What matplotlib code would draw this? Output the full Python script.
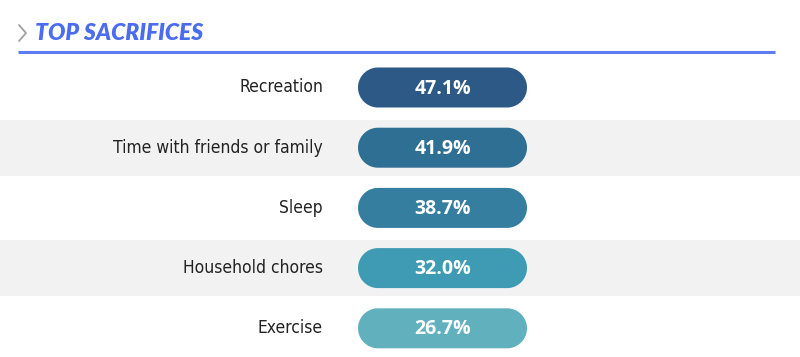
import matplotlib
matplotlib.use("Agg")
import numpy as np
import matplotlib.pyplot as plt
from matplotlib.patches import Polygon, Rectangle
from matplotlib.font_manager import FontProperties

categories = ["Recreation", "Time with friends or family", "Sleep", "Household chores", "Exercise"]
values = [47.1, 41.9, 38.7, 32.0, 26.7]
colors = ["#2c5985", "#306f94", "#357e9f", "#3e9bb3", "#60b1bd"]
title = "TOP SACRIFICES"

W, H = 800, 357
fig = plt.figure(figsize=(W / 100, H / 100), dpi=100)
ax = fig.add_axes([0, 0, 1, 1])
ax.set_xlim(0, W)
ax.set_ylim(H, 0)
ax.axis("off")

# title
ax.plot([19, 26, 19], [25, 33, 41], color="#a0a0a0", lw=1.3, solid_capstyle="round")
ax.text(35, 33.5, title, color="#4a6cf0", fontsize=16.5, fontweight="heavy",
        fontstyle="italic", family="Lato", va="center", ha="left")
ax.plot([18, 775], [51.5, 51.5], color="#5b7cf2", lw=2.2, solid_capstyle="butt")

label_fp = FontProperties(family="DejaVu Sans", stretch="condensed", size=12.5)


def capsule(x0, yc, w, h):
    r = h / 2
    t1 = np.linspace(np.pi / 2, 3 * np.pi / 2, 40)
    t2 = np.linspace(-np.pi / 2, np.pi / 2, 40)
    left = np.column_stack([x0 + r + r * np.cos(t1), yc + r * np.sin(t1)])
    right = np.column_stack([x0 + w - r + r * np.cos(t2), yc + r * np.sin(t2)])
    return np.vstack([left, right])


row0, pitch = 87.5, 60.2
pill_x0, pill_w, pill_h = 358, 169, 40
for i, (cat, val, col) in enumerate(zip(categories, values, colors)):
    yc = row0 + i * pitch
    if i % 2 == 1:
        ax.add_patch(Rectangle((0, yc - 28), W, 56, facecolor="#f2f2f2", edgecolor="none", zorder=0))
    ax.add_patch(Polygon(capsule(pill_x0, yc, pill_w, pill_h), closed=True,
                         facecolor=col, edgecolor="none", zorder=2))
    ax.text(323, yc, cat, ha="right", va="center", color="#222222",
            fontproperties=label_fp, zorder=3)
    ax.text(pill_x0 + pill_w / 2, yc + 1, f"{val:.1f}%", ha="center", va="center",
            fontsize=14, fontweight="bold", color="white", family="Open Sans", zorder=3)

fig.savefig("out.png", dpi=100, facecolor="white")
